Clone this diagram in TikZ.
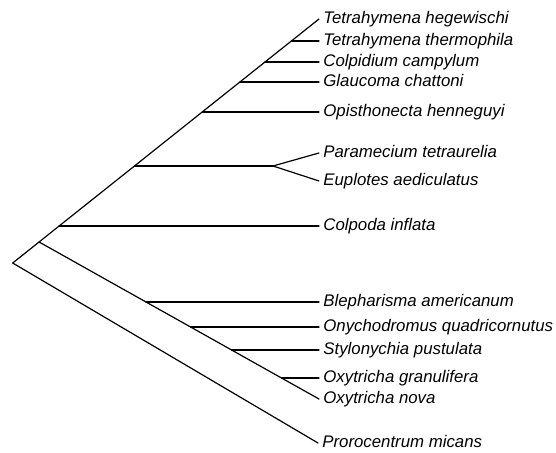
\documentclass[tikz,border=0pt]{standalone}
\usepackage{fontspec}
\setmainfont{Liberation Sans}
\usetikzlibrary{positioning}
\tikzstyle{branch} = [line width=0.6pt, line cap=round, line join=round]
\tikzstyle{taxon} = [
  inner sep=0pt, text height=6pt, text depth=1.8pt,
  font=\fontsize{8.4}{10}\selectfont\itshape
]

\begin{document}
\begin{tikzpicture}[x=0.5pt, y=-0.5pt, node distance=2pt]
\useasboundingbox (0,0) rectangle (556,453);

% --- Internal nodes ---
\coordinate (root) at (12.7,263);
\coordinate (spiro) at (39.1,242);
\coordinate (cpdn) at (59.1,226);
\coordinate (pen) at (134.5,166);
\coordinate (pesplit) at (273,166);
\coordinate (opin) at (202.2,112);
\coordinate (glan) at (239.9,82);
\coordinate (coln) at (265.0,62);
\coordinate (ttn) at (291.4,41);
\coordinate (blen) at (146.0,302);
\coordinate (onyn) at (190.6,327);
\coordinate (styn) at (231.6,350);
\coordinate (ogrn) at (281.5,378);

% --- Leaves ---
\coordinate (thg) at (319,19);
\coordinate (tth) at (319,41);
\coordinate (col) at (319,62);
\coordinate (gla) at (319,82);
\coordinate (opi) at (319,112);
\coordinate (par) at (319,153);
\coordinate (eup) at (319,181);
\coordinate (cpd) at (319,226);
\coordinate (ble) at (319,302);
\coordinate (ony) at (319,327);
\coordinate (sty) at (319,350);
\coordinate (ogr) at (319,378);
\coordinate (onv) at (319,399);
\coordinate (pro) at (318,443);

% --- Branches ---
\draw[branch] (root) -- (spiro) -- (cpdn) -- (pen) -- (opin) -- (glan) -- (coln) -- (ttn) -- (thg);
\draw[branch] (spiro) -- (blen) -- (onyn) -- (styn) -- (ogrn) -- (onv);
\draw[branch] (root) -- (pro);
\draw[branch] (ttn) -- (tth);
\draw[branch] (coln) -- (col);
\draw[branch] (glan) -- (gla);
\draw[branch] (opin) -- (opi);
\draw[branch] (pen) -- (pesplit);
\draw[branch] (pesplit) -- (par);
\draw[branch] (pesplit) -- (eup);
\draw[branch] (cpdn) -- (cpd);
\draw[branch] (blen) -- (ble);
\draw[branch] (onyn) -- (ony);
\draw[branch] (styn) -- (sty);
\draw[branch] (ogrn) -- (ogr);

% --- Taxon labels ---
\node[taxon, right=of thg] (lthg) {Tetrahymena hegewischi};
\node[taxon, right=of tth] (ltth) {Tetrahymena thermophila};
\node[taxon, right=of col] (lcol) {Colpidium campylum};
\node[taxon, right=of gla] (lgla) {Glaucoma chattoni};
\node[taxon, right=of opi] (lopi) {Opisthonecta henneguyi};
\node[taxon, right=of par] (lpar) {Paramecium tetraurelia};
\node[taxon, right=of eup] (leup) {Euplotes aediculatus};
\node[taxon, right=of cpd] (lcpd) {Colpoda inflata};
\node[taxon, right=of ble] (lble) {Blepharisma americanum};
\node[taxon, right=of ony] (lony) {Onychodromus quadricornutus};
\node[taxon, right=of sty] (lsty) {Stylonychia pustulata};
\node[taxon, right=of ogr] (logr) {Oxytricha granulifera};
\node[taxon, right=of onv] (lonv) {Oxytricha nova};
\node[taxon, right=of pro] (lpro) {Prorocentrum micans};

\end{tikzpicture}
\end{document}
